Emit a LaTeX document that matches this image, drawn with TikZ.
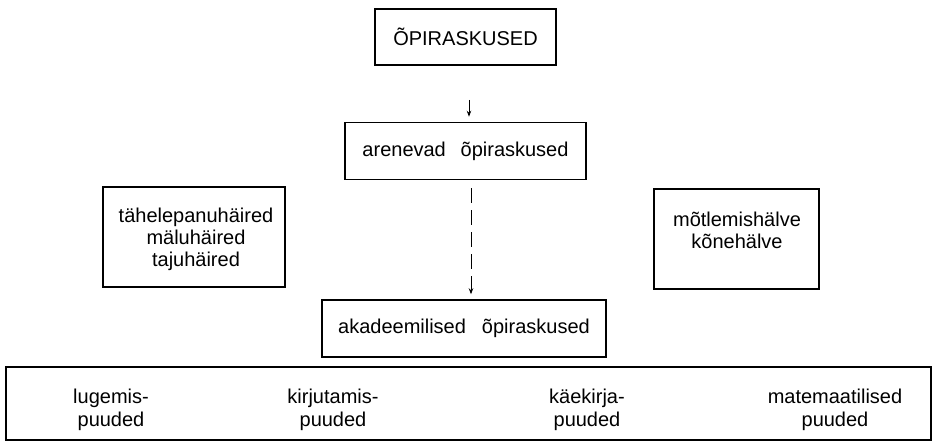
\documentclass[tikz,border=0pt]{standalone}
\usepackage{fontspec}
\setmainfont{Liberation Sans}
\usetikzlibrary{arrows.meta}
\begin{document}
\begin{tikzpicture}[x=1pt,y=-1pt,
  box/.style={draw, line width=1.5pt, inner sep=0pt, align=center},
  lbl/.style={font=\fontsize{20}{23}\selectfont, align=center, inner sep=0pt},
  arr/.style={line width=1pt, -{Stealth[length=6pt,width=4.5pt]}},
  dsh/.style={dash pattern=on 15pt off 7pt}]
\useasboundingbox (0,0) rectangle (935,442);
% boxes
\node[box, minimum width=181pt, minimum height=56pt, font=\fontsize{20}{23}\selectfont] (top) at (465.5,37) {ÕPIRASKUSED};
\node[box, minimum width=241pt, minimum height=57pt, font=\fontsize{20}{23}\selectfont] (aren) at (465.5,151) {arenevad\hspace{0.74em}õpiraskused};
\node[box, minimum width=284pt, minimum height=57pt, font=\fontsize{20}{23}\selectfont] (akad) at (464,328.5) {akadeemilised\hspace{0.8em}õpiraskused};
\node[box, minimum width=182pt, minimum height=100pt] (left) at (194,237) {};
\node[lbl, font=\fontsize{20}{22}\selectfont] (lefttext) at (196,239) {tähelepanuhäired\\mäluhäired\\tajuhäired};
\node[box, minimum width=165pt, minimum height=100pt] (right) at (736.5,239) {};
\node[lbl, font=\fontsize{20}{22}\selectfont] (righttext) at (737,230) {mõtlemishälve\\kõnehälve};
\node[box, minimum width=925pt, minimum height=73pt] (big) at (468.5,403.5) {};
\node[lbl] (b1) at (111,410) {lugemis-\\puuded};
\node[lbl] (b2) at (333,410) {kirjutamis-\\puuded};
\node[lbl] (b3) at (587,410) {käekirja-\\puuded};
\node[lbl] (b4) at (835,410) {matemaatilised\\puuded};
% connectors
\coordinate (c1) at (469,0);
\coordinate (c2) at (471,0);
\draw[arr, shorten <=34pt, shorten >=5pt] (top.south -| c1) -- (aren.north -| c1);
\draw[arr, dsh, shorten <=8pt, shorten >=5pt] (aren.south -| c2) -- (akad.north -| c2);
\end{tikzpicture}
\end{document}
